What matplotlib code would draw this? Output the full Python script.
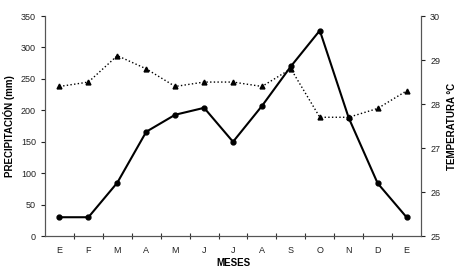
import numpy as np
import matplotlib
matplotlib.use('Agg')
from matplotlib import pyplot as plt

plt.rcParams['font.family'] = ['Liberation Sans', 'DejaVu Sans']

meses = ['E', 'F', 'M', 'A', 'M', 'J', 'J', 'A', 'S', 'O', 'N', 'D', 'E']
precipitacion = [30, 30, 85, 166, 193, 204, 150, 207, 270, 327, 188, 84, 30]
temperatura = [28.4, 28.5, 29.1, 28.8, 28.4, 28.5, 28.5, 28.4, 28.8, 27.7, 27.7, 27.9, 28.3]

x = np.arange(len(meses))

fig = plt.figure(figsize=(4.58, 2.72), dpi=100)
ax = fig.add_axes([0.0983, 0.132, 0.821, 0.809])
ax2 = ax.twinx()

ax.plot(x, precipitacion, color='black', lw=1.5, marker='o', markersize=3.5, zorder=3)
ax2.plot(x, temperatura, color='black', lw=1, linestyle=':', marker='^', markersize=3.5)

ax.set_xlim(-0.5, len(meses) - 0.5)
ax.set_ylim(0, 350)
ax.set_yticks(range(0, 351, 50))
ax2.set_ylim(25, 30)
ax2.set_yticks(range(25, 31))

ax.set_xticks(x)
ax.set_xticklabels(meses)
ax.set_xticks(np.arange(0.5, len(meses) - 0.5), minor=True)
ax.tick_params(axis='x', which='major', length=0, pad=7)
ax.tick_params(axis='x', which='minor', length=4, direction='inout', width=0.8)

for a in (ax, ax2):
    a.spines['top'].set_visible(False)
    a.tick_params(axis='y', labelsize=6.5, length=3, width=0.8, colors='#222222')
    for s in a.spines.values():
        s.set_color('#555555')
ax.tick_params(axis='x', labelsize=6.5, colors='#222222')
ax.tick_params(axis='x', which='minor', colors='#333333')

ax.set_xlabel('MESES', fontsize=7, fontweight='bold', labelpad=2)
ax.set_ylabel('PRECIPITACIÓN (mm)', fontsize=7, fontweight='bold', labelpad=4)
ax2.set_ylabel('TEMPERATURA °C', fontsize=7, fontweight='bold', labelpad=5)

fig.savefig('out.png', dpi=100)
